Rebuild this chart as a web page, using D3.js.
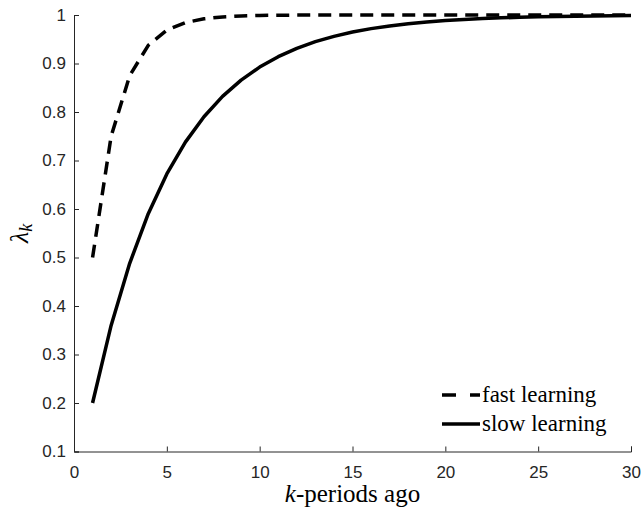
<!DOCTYPE html>
<html>
<head>
<meta charset="utf-8">
<script src="https://cdn.jsdelivr.net/npm/d3@7/dist/d3.min.js"></script>
<style>
  html, body { margin: 0; padding: 0; background: #fff; }
  svg { display: block; }
</style>
</head>
<body>
<svg id="chart" width="642" height="510"></svg>
<script>
// Lag index k (periods ago)
const periods = d3.range(1, 31);

// Weight on the k-th lagged observation, fast learner
const fastLearning = [
  0.5, 0.75, 0.875, 0.9375, 0.9688, 0.9844, 0.9922, 0.9961, 0.998, 0.999,
  0.9995, 0.9998, 0.9999, 0.9999, 1.0, 1.0, 1.0, 1.0, 1.0, 1.0,
  1.0, 1.0, 1.0, 1.0, 1.0, 1.0, 1.0, 1.0, 1.0, 1.0
];

// Weight on the k-th lagged observation, slow learner
const slowLearning = [
  0.2, 0.36, 0.488, 0.5904, 0.6723, 0.7379, 0.7903, 0.8322, 0.8658, 0.8926,
  0.9141, 0.9313, 0.945, 0.956, 0.9648, 0.9719, 0.9775, 0.982, 0.9856, 0.9885,
  0.9908, 0.9926, 0.9941, 0.9953, 0.9962, 0.997, 0.9976, 0.9981, 0.9985, 0.9988
];

const xTicks = [0, 5, 10, 15, 20, 25, 30];
const yTicks = [0.1, 0.2, 0.3, 0.4, 0.5, 0.6, 0.7, 0.8, 0.9, 1];

const svg = d3.select("#chart");
const plot = { left: 74, right: 631, top: 15, bottom: 451.5 };

const x = d3.scaleLinear().domain([0, 30]).range([plot.left, plot.right]);
const y = d3.scaleLinear().domain([0.1, 1]).range([plot.bottom, plot.top]);

const axisColor = "#262626";
const sansFont = "Liberation Sans";
const serifFont = "Liberation Serif";

// Axes with inward ticks
const xAxis = svg.append("g")
  .attr("transform", `translate(0,${plot.bottom})`)
  .call(d3.axisBottom(x).tickValues(xTicks).tickSize(-5).tickPadding(14).tickFormat(d3.format("d")));
const yAxis = svg.append("g")
  .attr("transform", `translate(${plot.left},0)`)
  .call(d3.axisLeft(y).tickValues(yTicks).tickSize(-5).tickPadding(8)
    .tickFormat(d => d === 1 ? "1" : d3.format(".1f")(d)));

[xAxis, yAxis].forEach(g => {
  g.selectAll(".domain").attr("stroke", axisColor).attr("stroke-width", 1);
  g.selectAll(".tick line").attr("stroke", axisColor).attr("stroke-width", 1);
  g.selectAll(".tick text")
    .style("font-family", sansFont)
    .style("font-size", "17px")
    .attr("fill", axisColor);
});
xAxis.selectAll(".tick text").attr("dy", "0.71em");

// Curves
const line = d3.line()
  .x((d, i) => x(periods[i]))
  .y(d => y(d));

svg.append("path")
  .datum(slowLearning)
  .attr("d", line)
  .attr("fill", "none")
  .attr("stroke", "#000")
  .attr("stroke-width", 3.5)
  .attr("stroke-linejoin", "round");

svg.append("path")
  .datum(fastLearning)
  .attr("d", line)
  .attr("fill", "none")
  .attr("stroke", "#000")
  .attr("stroke-width", 3.5)
  .attr("stroke-dasharray", "13,8");

// Axis titles
const xl = svg.append("text")
  .attr("x", (plot.left + plot.right) / 2)
  .attr("y", 502)
  .attr("text-anchor", "middle")
  .style("font-family", serifFont)
  .style("font-size", "25px")
  .attr("fill", "#000");
xl.append("tspan").style("font-style", "italic").text("k");
xl.append("tspan").text("-periods ago");

const yl = svg.append("text")
  .attr("transform", `translate(28,${(plot.top + plot.bottom) / 2}) rotate(-90)`)
  .attr("text-anchor", "middle")
  .style("font-family", serifFont)
  .style("font-size", "26px")
  .attr("fill", "#000");
yl.append("tspan").style("font-style", "italic").text("λ");
yl.append("tspan").style("font-style", "italic").style("font-size", "18px").attr("dy", 4).text("k");

// Legend
const legendItems = [
  { label: "fast learning", dash: "14,14" },
  { label: "slow learning", dash: null }
];
const lg = svg.append("g");
legendItems.forEach((item, i) => {
  const yy = 395 + i * 29;
  lg.append("line")
    .attr("x1", 442).attr("x2", 480)
    .attr("y1", yy).attr("y2", yy)
    .attr("stroke", "#000").attr("stroke-width", 3.5)
    .attr("stroke-dasharray", item.dash);
  lg.append("text")
    .attr("x", 482).attr("y", yy + 7)
    .style("font-family", serifFont)
    .style("font-size", "23px")
    .attr("fill", "#000")
    .text(item.label);
});
</script>
</body>
</html>
